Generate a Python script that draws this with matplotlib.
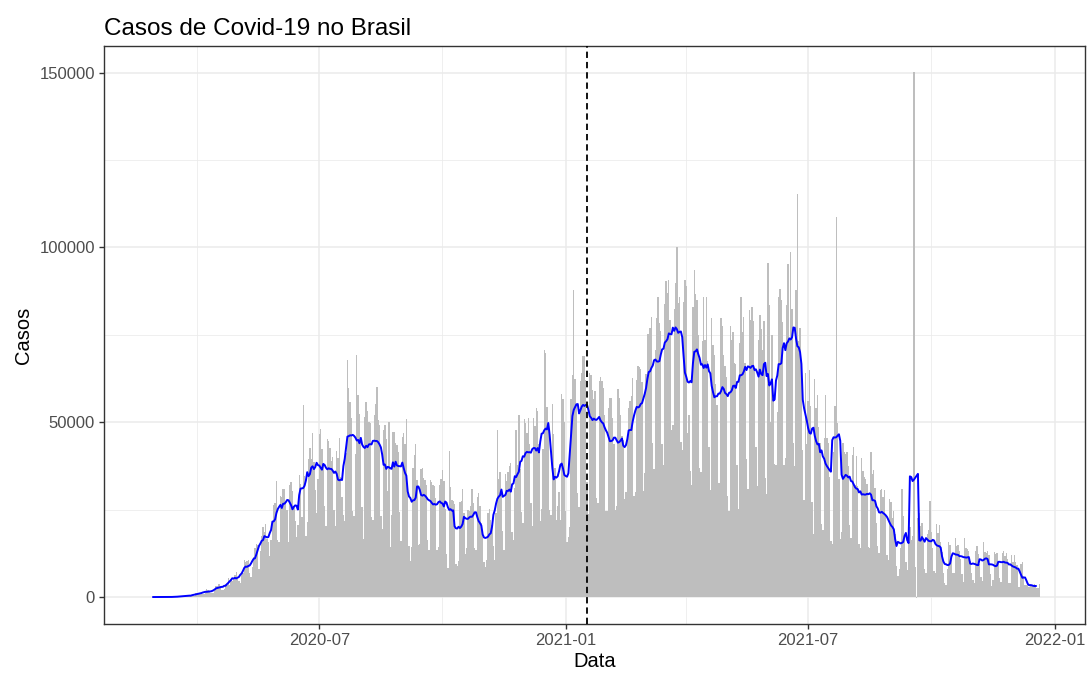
import matplotlib
matplotlib.use("Agg")
import matplotlib.pyplot as plt
import matplotlib.dates as mdates
from matplotlib.ticker import FixedLocator, FuncFormatter
import numpy as np
import pandas as pd

plt.rcParams['font.family'] = ['Liberation Sans', 'DejaVu Sans']

# novos casos diarios (mil), semanas de segunda a domingo; a primeira comeca na terca 2020-02-25
inicio = '2020-02-25'
semanas_2020 = [
    [0, 0.001, 0, 0, 0.001, 0],
    [0, 0, 0, 0.001, 0.005, 0.005, 0.006],
    [0.005, 0.009, 0.018, 0.025, 0.021, 0.022, 0.05],
    [0.04, 0.1, 0.06, 0.16, 0.26, 0.27, 0.27],
    [0.35, 0.23, 0.48, 0.43, 0.43, 0.5, 0.35],
    [0.32, 1.14, 1.12, 1.2, 1.07, 1.15, 0.85],
    [0.93, 1.66, 2.21, 1.93, 1.78, 1.09, 1.24],
    [1.26, 1.83, 3.06, 3.26, 3.6, 3.26, 1.99],
    [2.09, 2.34, 3.73, 3.5, 5.51, 3.38, 5.13],
    [4.61, 5.39, 6.28, 7.22, 5.02, 4.63, 4.08],
    [6.21, 6.83, 10.5, 9.89, 10.2, 10.6, 6.76],
    [5.63, 8.62, 11.4, 13.9, 15.3, 14.9, 7.94],
    [13.1, 17.4, 19.9, 18.5, 20.8, 16.5, 15.8],
    [11.7, 16.3, 20.6, 26.4, 26.9, 33.3, 16.4],
    [15.6, 28.9, 28.6, 30.9, 30.8, 27.1, 24.9],
    [15.6, 32.1, 32.9, 30.4, 25.9, 21.7, 17.1],
    [20.6, 34.9, 32.2, 22.8, 54.8, 34.7, 17.5],
    [21.4, 39.4, 42.7, 39.5, 46.9, 38.7, 30.5],
    [24.1, 33.8, 46.7, 48.1, 42.2, 37.9, 26.1],
    [20.2, 45.3, 44.6, 42.6, 39.0, 40.0, 24.8],
    [20.3, 41.9, 39.9, 45.4, 34.2, 28.5, 23.5],
    [21.7, 41.1, 67.9, 59.9, 55.9, 51.1, 24.6],
    [23.3, 40.8, 69.1, 57.8, 52.4, 45.4, 25.8],
    [16.6, 51.6, 55.7, 53.1, 50.2, 49.9, 23.0],
    [22.0, 52.2, 55.2, 60.1, 50.6, 49.3, 23.1],
    [19.4, 47.8, 49.3, 45.3, 30.4, 50.0, 14.4],
    [23.4, 47.1, 47.2, 44.2, 43.4, 41.4, 24.2],
    [16.0, 45.9, 46.9, 43.8, 51.0, 30.6, 14.5],
    [10.3, 14.3, 36.8, 40.6, 43.7, 33.5, 14.8],
    [15.2, 36.7, 36.8, 34.0, 33.4, 32.1, 16.4],
    [13.4, 33.5, 32.8, 32.1, 31.9, 28.3, 13.4],
    [14.3, 32.1, 33.8, 36.4, 33.1, 25.3, 12.3],
    [8.4, 41.9, 31.5, 27.7, 27.4, 26.7, 9.5],
    [8.8, 10.2, 27.2, 27.4, 30.9, 24.1, 12.3],
    [13.9, 24.8, 24.6, 26.0, 30.8, 26.9, 14.0],
    [13.5, 28.6, 29.8, 26.1, 21.1, 18.9, 10.1],
    [8.5, 10.6, 23.9, 25.2, 22.0, 20.6, 14.7],
    [10.6, 23.9, 47.7, 33.9, 35.7, 30.3, 18.9],
    [13.4, 35.3, 33.2, 35.9, 37.6, 38.4, 18.6],
    [16.2, 31.1, 47.9, 37.7, 52.0, 36.7, 24.4],
    [21.1, 50.9, 49.9, 46.9, 51.1, 43.9, 26.8],
    [20.3, 51.1, 48.9, 54.0, 53.3, 43.9, 21.8],
    [25.2, 42.4, 70.6, 69.8, 54.3, 49.9, 25.0],
    [23.6, 55.3, 46.7, 37.0, 22.0, 26.0, 30.0],
    [22.0, 58.0, 56.6, 50.0, 24.6, 15.8, 17.3],
]
semanas_2021 = [
    [20.0, 56.6, 63.5, 87.8, 62.3, 54.8, 29.8],
    [25.8, 61.9, 64.0, 69.0, 68.9, 62.1, 33.0],
    [23.7, 64.0, 63.5, 59.1, 56.6, 59.0, 28.3],
    [26.8, 61.9, 63.0, 61.8, 59.8, 52.0, 24.6],
    [24.6, 54.1, 57.0, 56.9, 51.1, 43.7, 25.0],
    [25.9, 59.6, 56.9, 52.0, 46.0, 45.0, 28.0],
    [30.0, 45.0, 54.2, 56.0, 57.6, 62.7, 29.0],
    [29.9, 62.0, 66.0, 65.9, 65.2, 61.6, 30.4],
    [35.4, 63.9, 75.1, 75.1, 77.0, 80.0, 44.1],
    [36.7, 70.8, 79.9, 85.7, 78.3, 76.2, 43.8],
    [37.8, 83.9, 90.3, 86.9, 90.6, 79.1, 47.8],
    [49.3, 82.5, 89.9, 100.2, 84.2, 85.9, 44.3],
    [42.0, 84.5, 90.6, 89.0, 47.0, 52.0, 36.0],
    [32.0, 82.9, 93.4, 86.7, 85.0, 75.0, 37.0],
    [35.8, 73.2, 85.7, 73.5, 85.8, 67.6, 42.9],
    [30.6, 79.7, 72.1, 69.1, 60.9, 55.0, 32.6],
    [32.6, 79.7, 77.4, 69.1, 66.0, 62.9, 28.9],
    [24.6, 77.4, 73.4, 75.7, 67.0, 66.7, 37.9],
    [25.2, 72.7, 85.7, 75.7, 80.0, 67.0, 39.6],
    [30.9, 82.0, 79.2, 83.1, 79.0, 65.0, 43.0],
    [31.7, 73.5, 80.6, 76.7, 70.8, 79.0, 34.0],
    [29.6, 95.6, 83.4, 50.0, 75.0, 56.0, 38.0],
    [37.9, 52.9, 85.7, 88.0, 85.1, 78.7, 37.9],
    [39.8, 83.4, 95.4, 74.0, 98.8, 82.3, 44.2],
    [37.5, 87.8, 115.2, 73.2, 77.0, 67.2, 42.1],
    [27.8, 64.1, 43.8, 56.0, 65.0, 54.6, 27.2],
    [18.0, 62.5, 54.0, 57.7, 48.5, 44.0, 20.9],
    [19.2, 45.6, 57.7, 45.6, 44.0, 34.3, 15.9],
    [15.3, 41.4, 54.5, 108.7, 49.8, 33.7, 16.5],
    [18.5, 44.2, 41.4, 40.9, 41.4, 37.6, 20.5],
    [17.0, 40.7, 43.0, 32.1, 40.4, 31.8, 15.1],
    [14.0, 39.9, 36.1, 34.4, 33.9, 32.4, 14.4],
    [14.0, 41.4, 35.3, 36.3, 31.1, 21.3, 14.5],
    [12.5, 30.6, 30.9, 28.6, 30.5, 23.1, 12.0],
    [10.5, 27.9, 27.3, 22.7, 24.7, 18.0, 9.0],
    [5.9, 7.9, 14.0, 31.0, 23.1, 16.5, 10.0],
    [7.8, 19.9, 20.0, 16.4, 17.4, 150.1, 8.6],
    [-0.2, 22.7, 24.0, 20.2, 21.2, 17.0, 8.0],
    [7.0, 18.1, 19.3, 27.4, 18.6, 14.0, 7.4],
    [6.8, 21.0, 18.2, 20.6, 15.6, 12.8, 6.8],
    [4.0, 3.4, 7.9, 15.7, 14.9, 11.3, 7.0],
    [7.0, 17.0, 14.7, 14.9, 13.3, 11.0, 6.5],
    [4.4, 17.0, 14.0, 13.6, 13.1, 10.3, 7.0],
    [5.0, 3.9, 13.3, 14.6, 12.3, 9.5, 5.6],
    [4.6, 15.7, 12.9, 12.5, 13.3, 12.0, 6.5],
    [3.2, 5.0, 13.0, 12.3, 12.6, 10.2, 5.5],
    [4.2, 12.6, 13.1, 11.6, 12.6, 11.0, 4.0],
    [4.0, 11.9, 10.0, 12.0, 10.0, 9.3, 3.0],
    [3.0, 9.5, 10.0, 6.1, 3.5, 3.4, 3.6],
    [3.0, 3.5, 3.3, 3.4, 3.7, 3.0, 2.6],
    [2.5, 3.6],
]
inicio_vacina = '2021-01-17'
y_ticks = [0, 50000, 100000, 150000]
x_ticks = ['2020-07-01', '2021-01-01', '2021-07-01', '2022-01-01']
x_minor = ['2020-04-01', '2020-10-01', '2021-04-01', '2021-10-01']

casos = np.array([v for s in semanas_2020 + semanas_2021 for v in s]) * 1000
datas = pd.date_range(inicio, periods=len(casos), freq='D')
media = pd.Series(casos).rolling(7, center=True).mean()

fig = plt.figure(figsize=(10.9, 6.75), dpi=100)
ax = fig.add_axes([104 / 1090, 1 - 624 / 675, 981 / 1090, 578 / 675])

xd = mdates.date2num(datas)
ax.bar(xd, casos, width=1.0, color='#BEBEBE', linewidth=0, zorder=2)
ax.plot(xd, media, color='blue', lw=1.4, zorder=3)
ax.axvline(mdates.date2num(pd.Timestamp(inicio_vacina)), color='black',
           lw=1.3, ls=(0, (3.5, 2.2)), zorder=4)

# expansao de 5% como no ggplot
x0, x1 = xd[0] - 0.45, xd[-1] + 0.45
ax.set_xlim(x0 - 0.05 * (x1 - x0), x1 + 0.05 * (x1 - x0))
y0, y1 = min(casos.min(), 0), casos.max()
ax.set_ylim(y0 - 0.05 * (y1 - y0), y1 + 0.05 * (y1 - y0))

ax.xaxis.set_major_locator(FixedLocator(mdates.date2num(pd.to_datetime(x_ticks))))
ax.xaxis.set_minor_locator(FixedLocator(mdates.date2num(pd.to_datetime(x_minor))))
ax.xaxis.set_major_formatter(FuncFormatter(lambda v, p: mdates.num2date(v).strftime('%Y-%m')))
ax.yaxis.set_major_locator(FixedLocator(y_ticks))
ax.yaxis.set_minor_locator(FixedLocator([25000, 75000, 125000]))
ax.yaxis.set_major_formatter(FuncFormatter(lambda v, p: '%d' % v))

ax.grid(True, which='major', color='#EBEBEB', lw=1.1, zorder=0)
ax.grid(True, which='minor', color='#EBEBEB', lw=0.55, zorder=0)
ax.set_axisbelow(True)
for s in ax.spines.values():
    s.set_color('#333333')
    s.set_linewidth(1.0)
ax.tick_params(which='major', length=3.5, width=1, color='#333333',
               labelsize=12, labelcolor='#4D4D4D', pad=3)
ax.tick_params(which='minor', length=0)

ax.set_xlabel('Data', fontsize=14.5, labelpad=3)
ax.set_ylabel('Casos', fontsize=14.5, labelpad=5)
ax.set_title('Casos de Covid-19 no Brasil', loc='left', fontsize=17.5, pad=8)

fig.savefig('out.png', dpi=100, facecolor='white')
